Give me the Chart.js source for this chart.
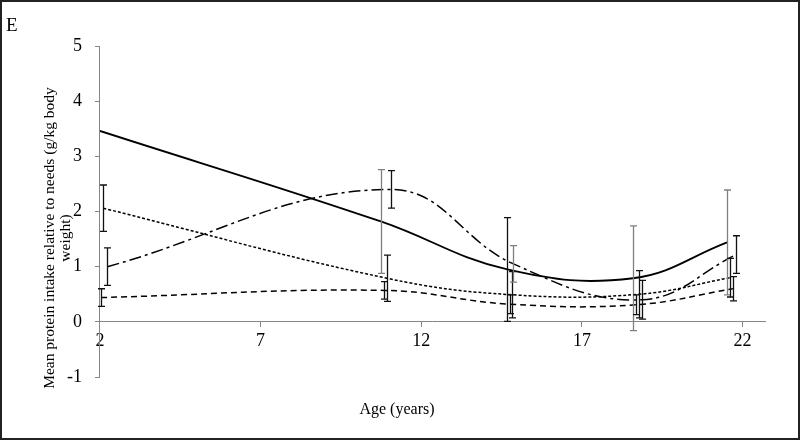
<!DOCTYPE html>
<html>
<head>
<meta charset="utf-8">
<script src="https://cdn.jsdelivr.net/npm/chart.js@4.4.0/dist/chart.umd.min.js"></script>
<style>
  html, body { margin: 0; padding: 0; background: #fff; }
  #wrap { width: 800px; height: 440px; }
</style>
</head>
<body>
<div id="wrap"><canvas id="mycanvas" width="800" height="440"></canvas></div>
<script>
// ages (x) and mean protein intake / needs (y) for each group, with error (+/-)
var solidAge = [2, 10.74, 14.68, 18.59, 21.52];
var solidMean = [3.46, 1.82, 0.95, 0.79, 1.44];
var solidErr = [null, 0.94, 0.94, 0.95, 0.95];

var dottedAge = [2.1, 10.93, 14.84, 18.78, 21.62];
var dottedMean = [2.06, 0.79, 0.49, 0.5, 0.8];
var dottedErr = [0.42, 0.42, 0.42, 0.43, 0.35];

var dashedAge = [2.03, 10.85, 14.75, 18.7, 21.7];
var dashedMean = [0.44, 0.57, 0.32, 0.31, 0.6];
var dashedErr = [0.16, 0.16, 0.17, 0.18, 0.22];

var dashDotAge = [2.23, 11.05, 14.87, 18.86, 21.81];
var dashDotMean = [1.0, 2.4, 1.05, 0.4, 1.22];
var dashDotErr = [0.34, 0.34, 0.33, 0.35, 0.34];

var xTicks = [2, 7, 12, 17, 22];
var yTitle = ["Mean protein intake relative to needs (g/kg body", "weight)"];
var xTitle = "Age (years)";
var panelLabel = "E";

var serif = "'Liberation Serif', 'DejaVu Serif', serif";

function pts(xs, ys) {
  var out = [];
  for (var i in xs) {
    out.push({x: xs[i], y: ys[i]});
  }
  return out;
}

var errorBars = {
  id: 'errorBars',
  afterDatasetsDraw: function(chart) {
    var ctx = chart.ctx;
    var xs = chart.scales.x, ys = chart.scales.y;
    chart.data.datasets.forEach(function(ds) {
      if (!ds.errors) return;
      ds.data.forEach(function(p, i) {
        var e = ds.errors[i];
        if (e == null) return;
        var px = Math.round(xs.getPixelForValue(p.x)) + 0.5;
        var top = ys.getPixelForValue(p.y + e);
        var bot = ys.getPixelForValue(p.y - e);
        ctx.save();
        ctx.strokeStyle = ds.errColors ? ds.errColors[i] : '#111';
        ctx.lineWidth = 1.3;
        ctx.setLineDash([]);
        ctx.beginPath();
        ctx.moveTo(px, top); ctx.lineTo(px, bot);
        ctx.moveTo(px - 3.5, top); ctx.lineTo(px + 3.5, top);
        ctx.moveTo(px - 3.5, bot); ctx.lineTo(px + 3.5, bot);
        ctx.stroke();
        ctx.restore();
      });
    });
  }
};

var labels = {
  id: 'labels',
  afterDraw: function(chart) {
    var ctx = chart.ctx;
    ctx.save();
    ctx.fillStyle = '#000';
    ctx.textBaseline = 'middle';
    // y title, two rotated lines centred on the same point
    ctx.font = "15.5px " + serif;
    ctx.textAlign = 'center';
    ctx.translate(50, 238);
    ctx.rotate(-Math.PI / 2);
    ctx.fillText(yTitle[0], 0, 0);
    ctx.fillText(yTitle[1], 0, 16);
    ctx.restore();

    ctx.save();
    ctx.fillStyle = '#000';
    ctx.textBaseline = 'middle';
    ctx.font = "16px " + serif;
    ctx.textAlign = 'center';
    ctx.fillText(xTitle, 397, 410);
    ctx.font = "19px " + serif;
    ctx.textAlign = 'left';
    ctx.fillText(panelLabel, 6, 26);
    // frame
    ctx.strokeStyle = '#222';
    ctx.lineWidth = 2;
    ctx.strokeRect(1, 1, 798, 438);
    ctx.restore();
  }
};

var chartdata = {
  datasets: [
    {
      label: "solid",
      data: pts(solidAge, solidMean),
      errors: solidErr,
      errColors: ['#111', '#808080', '#111', '#808080', '#808080'],
      borderColor: "#000",
      borderWidth: 1.8,
      fill: false
    },
    {
      label: "dotted",
      data: pts(dottedAge, dottedMean),
      errors: dottedErr,
      borderColor: "#000",
      borderWidth: 1.5,
      borderDash: [3, 2],
      fill: false
    },
    {
      label: "dashed",
      data: pts(dashedAge, dashedMean),
      errors: dashedErr,
      borderColor: "#000",
      borderWidth: 1.5,
      borderDash: [6, 4],
      fill: false
    },
    {
      label: "dash-dot",
      data: pts(dashDotAge, dashDotMean),
      errors: dashDotErr,
      errColors: ['#111', '#111', '#808080', '#111', '#111'],
      borderColor: "#000",
      borderWidth: 1.5,
      borderDash: [12, 4, 3, 4],
      fill: false
    }
  ]
};

var ctx = document.getElementById('mycanvas');

var LineGraph = new Chart(ctx, {
  type: 'line',
  data: chartdata,
  plugins: [errorBars, labels],
  options: {
    responsive: false,
    animation: false,
    layout: { padding: { left: 54, right: 35, top: 46, bottom: 63 } },
    elements: {
      point: { radius: 0 },
      line: { tension: 0.4 }
    },
    plugins: {
      legend: { display: false },
      tooltip: { enabled: false }
    },
    scales: {
      x: {
        type: 'linear',
        min: 2,
        max: 22.7,
        position: { y: 0 },
        afterBuildTicks: function(axis) {
          axis.ticks = xTicks.map(function(v) { return {value: v}; });
        },
        grid: { drawOnChartArea: false, tickLength: 5, color: '#868686' },
        border: { color: '#868686' },
        ticks: { color: '#000', font: { family: serif, size: 18 }, padding: 4, maxRotation: 0 }
      },
      y: {
        min: -1,
        max: 5,
        grid: { drawOnChartArea: false, tickLength: 5, color: '#868686' },
        border: { color: '#868686' },
        ticks: { stepSize: 1, color: '#000', font: { family: serif, size: 18 }, padding: 13 }
      }
    }
  }
});
</script>
</body>
</html>
